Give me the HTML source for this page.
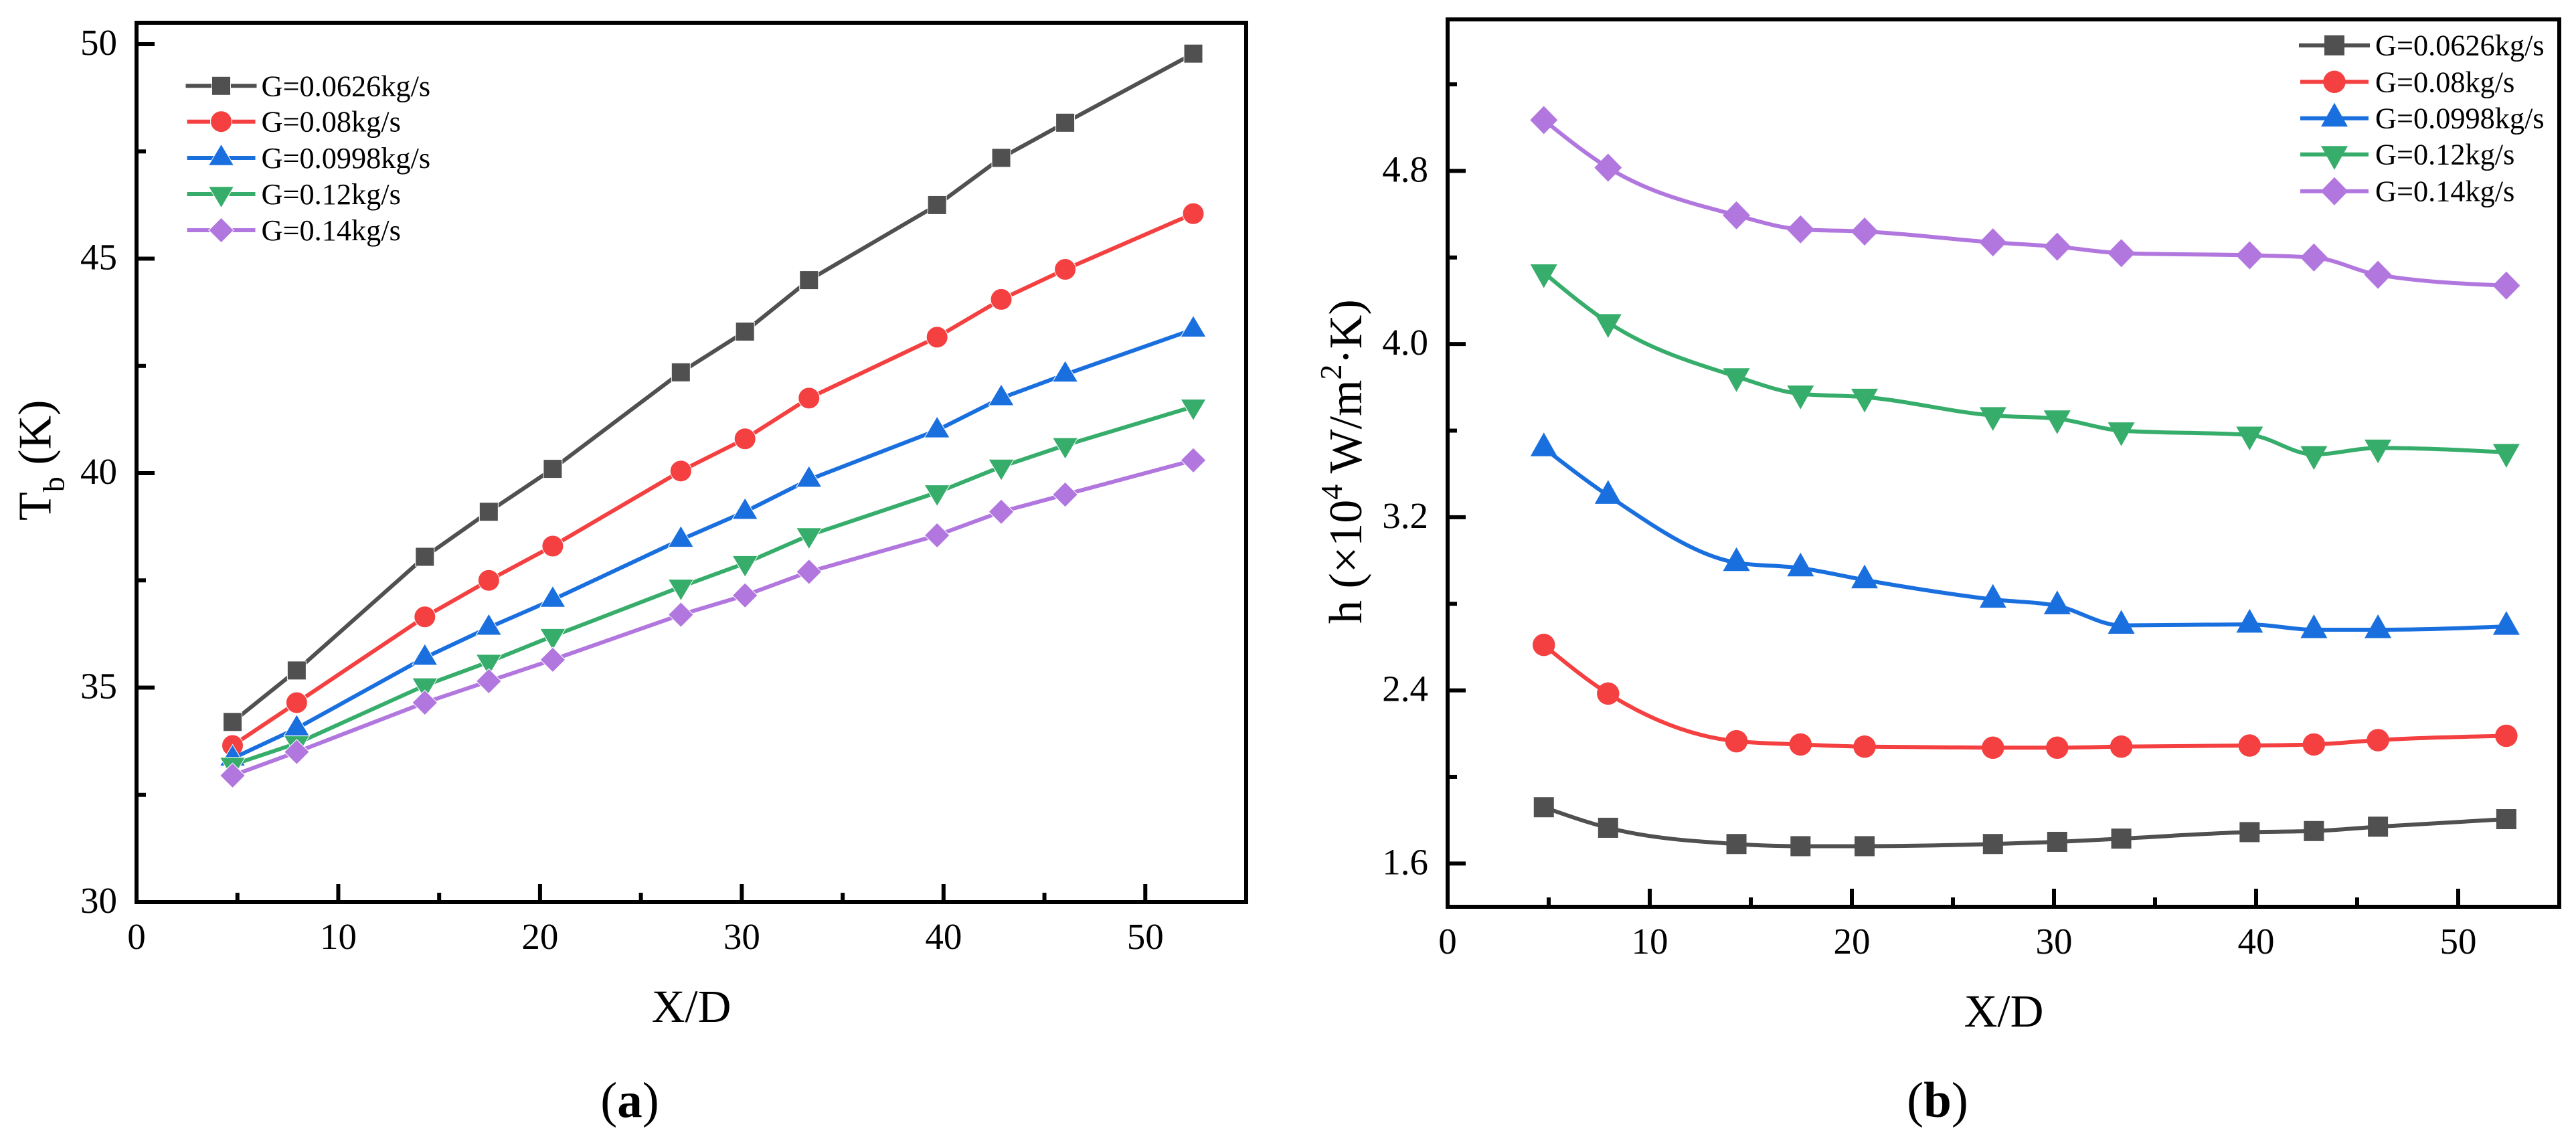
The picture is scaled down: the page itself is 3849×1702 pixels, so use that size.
<!DOCTYPE html>
<html>
<head>
<meta charset="utf-8">
<title>Bulk temperature and heat transfer coefficient vs X/D</title>
<style>
html,body{margin:0;padding:0;background:#fff;}
svg{display:block;}
text{font-family:"Liberation Serif",serif;fill:#000;}
</style>
</head>
<body>
<svg id="figure" xmlns="http://www.w3.org/2000/svg" width="3849" height="1702" viewBox="0 0 3849 1702">
  <rect x="0" y="0" width="3849" height="1702" fill="#fff"/>
  <g id="panel-a"></g>
  <g id="panel-b"></g>
  <text transform="translate(75.7,778) rotate(-90)" font-size="70">T<tspan font-size="46" dy="20">b</tspan><tspan dy="-20"> (K)</tspan></text>
  <text x="1033" y="1527" font-size="69" text-anchor="middle">X/D</text>
  <text x="941" y="1669" font-size="75" text-anchor="middle">(<tspan font-weight="bold">a</tspan>)</text>
  <text transform="translate(2034,932) rotate(-90)" font-size="70">h (×10<tspan font-size="46" dy="-29">4</tspan><tspan dy="29"> W/m</tspan><tspan font-size="46" dy="-30">2</tspan><tspan dy="30">·K)</tspan></text>
  <text x="2994" y="1534" font-size="69" text-anchor="middle">X/D</text>
  <text x="2895" y="1669" font-size="75" text-anchor="middle">(<tspan font-weight="bold">b</tspan>)</text>
</svg>
<script>
var xValues = [4.76, 7.94, 14.29, 17.46, 20.63, 26.98, 30.16, 33.33, 39.68, 42.86, 46.03, 52.38];
var seriesLabels = ['G=0.0626kg/s', 'G=0.08kg/s', 'G=0.0998kg/s', 'G=0.12kg/s', 'G=0.14kg/s'];

var tempG0626 = [34.2, 35.4, 38.05, 39.1, 40.1, 42.35, 43.3, 44.5, 46.25, 47.35, 48.17, 49.78];
var tempG08 = [33.65, 34.65, 36.65, 37.5, 38.3, 40.05, 40.8, 41.75, 43.17, 44.05, 44.75, 46.05];
var tempG0998 = [33.35, 34.05, 35.7, 36.4, 37.05, 38.45, 39.1, 39.85, 41.0, 41.75, 42.3, 43.35];
var tempG12 = [33.2, 33.7, 35.05, 35.6, 36.2, 37.35, 37.9, 38.55, 39.55, 40.15, 40.65, 41.55];
var tempG14 = [32.95, 33.5, 34.65, 35.15, 35.65, 36.7, 37.15, 37.7, 38.55, 39.1, 39.5, 40.3];

var hG0626 = [1.86, 1.765, 1.69, 1.68, 1.68, 1.69, 1.70, 1.715, 1.745, 1.75, 1.77, 1.805];
var hG08 = [2.61, 2.385, 2.165, 2.15, 2.14, 2.135, 2.135, 2.14, 2.145, 2.15, 2.17, 2.19];
var hG0998 = [3.52, 3.30, 2.99, 2.965, 2.91, 2.82, 2.79, 2.70, 2.705, 2.68, 2.68, 2.695];
var hG12 = [4.33, 4.10, 3.85, 3.77, 3.755, 3.67, 3.655, 3.60, 3.58, 3.49, 3.52, 3.50];
var hG14 = [5.035, 4.815, 4.595, 4.53, 4.52, 4.47, 4.45, 4.42, 4.41, 4.40, 4.32, 4.27];

var xMajorTicks = [0, 10, 20, 30, 40, 50];
var xMinorTicks = [5, 15, 25, 35, 45];
var yMajorTicksA = [30, 35, 40, 45, 50];
var yMinorTicksA = [32.5, 37.5, 42.5, 47.5];
var yMajorTicksB = [1.6, 2.4, 3.2, 4.0, 4.8];
var yMinorTicksB = [2.0, 2.8, 3.6, 4.4, 5.2];
var yLabelsB = ['1.6', '2.4', '3.2', '4.0', '4.8'];

var colors = ['#505050', '#F44040', '#1A6FDF', '#37AD6B', '#B177DE'];
var shapes = ['square', 'circle', 'up', 'down', 'diamond'];
var NS = 'http://www.w3.org/2000/svg';

function make(tag, parent, attrs) {
  var node = document.createElementNS(NS, tag);
  for (var k in attrs) { node.setAttribute(k, attrs[k]); }
  parent.appendChild(node);
  return node;
}

function linePath(pts) {
  var d = 'M' + pts[0][0] + ' ' + pts[0][1];
  for (var i = 1; i < pts.length; i++) { d += 'L' + pts[i][0] + ' ' + pts[i][1]; }
  return d;
}

function sgn(v) { return v > 0 ? 1 : (v < 0 ? -1 : 0); }

function splinePath(pts) {
  var n = pts.length, h = [], s = [], m = [], i;
  for (i = 0; i < n - 1; i++) {
    h[i] = pts[i + 1][0] - pts[i][0];
    s[i] = (pts[i + 1][1] - pts[i][1]) / h[i];
  }
  for (i = 1; i < n - 1; i++) {
    var p = (s[i - 1] * h[i] + s[i] * h[i - 1]) / (h[i - 1] + h[i]);
    m[i] = (sgn(s[i - 1]) + sgn(s[i])) * Math.min(Math.abs(s[i - 1]), Math.abs(s[i]), 0.5 * Math.abs(p));
  }
  m[0] = 1.5 * s[0] - 0.5 * m[1];
  m[n - 1] = 1.5 * s[n - 2] - 0.5 * m[n - 2];
  var d = 'M' + pts[0][0] + ' ' + pts[0][1];
  for (i = 0; i < n - 1; i++) {
    d += 'C' + (pts[i][0] + h[i] / 3) + ' ' + (pts[i][1] + m[i] * h[i] / 3) + ' ' +
         (pts[i + 1][0] - h[i] / 3) + ' ' + (pts[i + 1][1] - m[i + 1] * h[i] / 3) + ' ' +
         pts[i + 1][0] + ' ' + pts[i + 1][1];
  }
  return d;
}

function drawMarker(parent, shape, cx, cy, size, color, edge) {
  var style = { fill: color };
  if (edge) { style.stroke = '#fff'; style['stroke-width'] = edge; }
  var node;
  if (shape === 'square') {
    style.x = cx - size.square / 2; style.y = cy - size.square / 2;
    style.width = size.square; style.height = size.square;
    node = make('rect', parent, style);
  } else if (shape === 'circle') {
    style.cx = cx; style.cy = cy; style.r = size.circle / 2;
    node = make('circle', parent, style);
  } else {
    var pts;
    if (shape === 'up') {
      pts = [[cx, cy - size.triH * 0.65], [cx + size.triW / 2, cy + size.triH * 0.35], [cx - size.triW / 2, cy + size.triH * 0.35]];
    } else if (shape === 'down') {
      pts = [[cx, cy + size.triH * 0.65], [cx + size.triW / 2, cy - size.triH * 0.35], [cx - size.triW / 2, cy - size.triH * 0.35]];
    } else {
      pts = [[cx, cy - size.diaH / 2], [cx + size.diaW / 2, cy], [cx, cy + size.diaH / 2], [cx - size.diaW / 2, cy]];
    }
    style.points = pts.map(function (p) { return p[0] + ',' + p[1]; }).join(' ');
    node = make('polygon', parent, style);
  }
  return node;
}

function drawPanel(cfg) {
  var root = document.getElementById(cfg.id);
  function sx(v) { return cfg.left + (v - 0) * (cfg.right - cfg.left) / 55; }
  function sy(v) { return cfg.bottom - (v - cfg.yMin) * (cfg.bottom - cfg.top) / (cfg.yMax - cfg.yMin); }

  var frame = make('rect', root, { x: cfg.left, y: cfg.top, width: cfg.right - cfg.left, height: cfg.bottom - cfg.top, fill: 'none', stroke: '#000', 'stroke-width': 6 });
  
  

  xMajorTicks.forEach(function (v) {
    var tick = make('line', root, { x1: sx(v), x2: sx(v), y1: cfg.bottom, y2: cfg.bottom - 27, stroke: '#000', 'stroke-width': 6 });
    
    
    var label = make('text', root, { x: sx(v), y: cfg.bottom + cfg.xLabelOffset, 'font-size': 55, 'text-anchor': 'middle' });
    label.textContent = String(v);
    
    
  });
  xMinorTicks.forEach(function (v) {
    var tick = make('line', root, { x1: sx(v), x2: sx(v), y1: cfg.bottom, y2: cfg.bottom - 14, stroke: '#000', 'stroke-width': 6 });
    
    
  });
  cfg.yMajor.forEach(function (v, i) {
    var tick = make('line', root, { x1: cfg.left, x2: cfg.left + 27, y1: sy(v), y2: sy(v), stroke: '#000', 'stroke-width': 6 });
    
    
    var label = make('text', root, { x: cfg.yLabelX, y: sy(v) + 16, 'font-size': 55, 'text-anchor': 'end' });
    label.textContent = cfg.yLabels[i];
    
    
  });
  cfg.yMinor.forEach(function (v) {
    var tick = make('line', root, { x1: cfg.left, x2: cfg.left + 14, y1: sy(v), y2: sy(v), stroke: '#000', 'stroke-width': 6 });
    
    
  });

  cfg.series.forEach(function (values, s) {
    var group = make('g', root, {});
    
    
    var pts = values.map(function (v, i) { return [sx(xValues[i]), sy(v)]; });
    var d = cfg.smooth ? splinePath(pts) : linePath(pts);
    var curve = make('path', group, { d: d, fill: 'none', stroke: colors[s], 'stroke-width': 6, 'stroke-linejoin': 'round' });
    
    
    pts.forEach(function (p) {
      var mark = drawMarker(group, shapes[s], p[0], p[1], cfg.size, colors[s], cfg.edge);
      
      
    });
  });

  var legend = make('g', root, {});
  
  
  seriesLabels.forEach(function (name, s) {
    var entry = make('g', legend, {});
    
    
    var ly = cfg.legendRows[s];
    var half = s === 0 ? cfg.legendHalf + 2 : cfg.legendHalf;
    var sample = make('line', entry, { x1: cfg.legendCx - half, x2: cfg.legendCx + half, y1: ly, y2: ly, stroke: colors[s], 'stroke-width': 6 });
    
    
    var mark = drawMarker(entry, shapes[s], cfg.legendCx, ly, cfg.size, colors[s], cfg.edge);
    
    
    var label = make('text', entry, { x: cfg.legendTextX, y: ly + 15, 'font-size': 44.3 });
    label.textContent = name;
    
    
  });
}

drawPanel({
  id: 'panel-a', left: 204, right: 1862, top: 34, bottom: 1348, yMin: 30, yMax: 50.5,
  yMajor: yMajorTicksA, yMinor: yMinorTicksA, yLabels: yMajorTicksA.map(String),
  yLabelX: 175, xLabelOffset: 70, smooth: false, edge: 1,
  size: { square: 28, circle: 32, triW: 38, triH: 32, diaW: 37.5, diaH: 37.5 },
  series: [tempG0626, tempG08, tempG0998, tempG12, tempG14],
  legendRows: [128.3, 181.7, 236, 290, 344], legendCx: 330.5, legendHalf: 51, legendTextX: 390.5
});

drawPanel({
  id: 'panel-b', left: 2163, right: 3824, top: 29, bottom: 1355, yMin: 1.4, yMax: 5.5,
  yMajor: yMajorTicksB, yMinor: yMinorTicksB, yLabels: yLabelsB,
  yLabelX: 2134, xLabelOffset: 70, smooth: true, edge: 0,
  size: { square: 30, circle: 33.5, triW: 40, triH: 35.5, diaW: 41, diaH: 42 },
  series: [hG0626, hG08, hG0998, hG12, hG14],
  legendRows: [67.7, 122.3, 176.7, 230.7, 285.7], legendCx: 3488, legendHalf: 51, legendTextX: 3549
});
</script>
</body>
</html>
